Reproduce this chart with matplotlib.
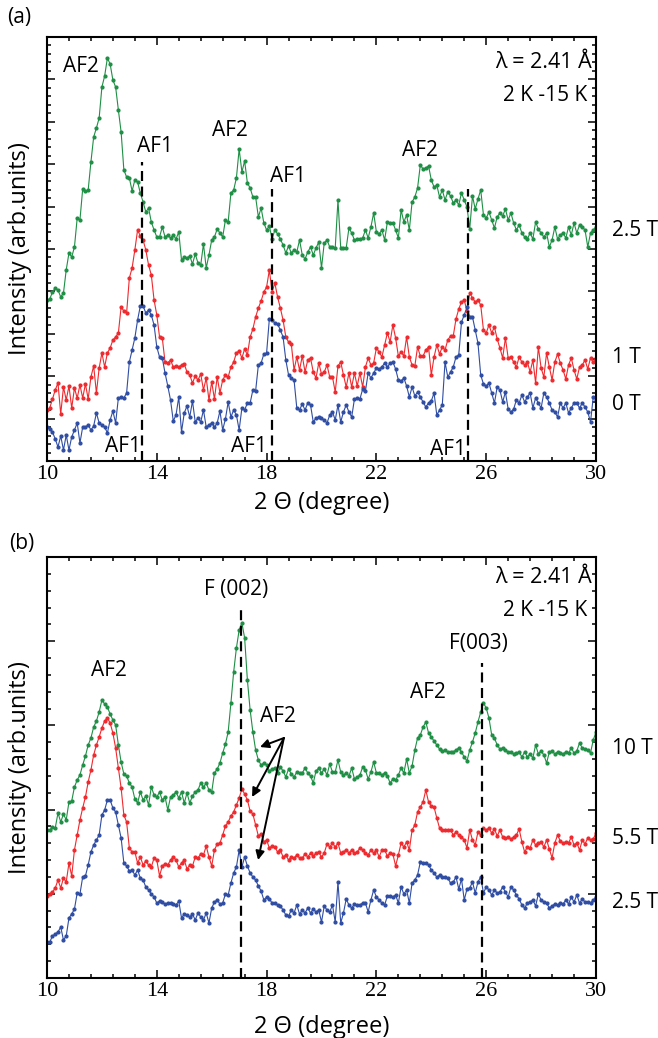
import numpy as np
import matplotlib.pyplot as plt

plt.rcParams['font.family'] = ['Open Sans', 'DejaVu Sans']

# 2 theta scan grid (0.1 degree step)
two_theta = np.linspace(10, 30, 201)

# panel (a): intensities (arb. units)
green_a = [161, 162, 169, 173, 171, 164, 168, 191, 208, 204,
           214, 243, 241, 272, 270, 271, 299, 324, 333, 343,
           374, 385, 403, 397, 381, 374, 351, 329, 291, 284,
           283, 270, 281, 279, 268, 259, 249, 253, 239, 231,
           224, 224, 234, 224, 226, 223, 226, 222, 229, 201,
           204, 203, 205, 197, 207, 198, 196, 217, 193, 206,
           221, 224, 232, 228, 224, 241, 239, 268, 271, 283,
           312, 289, 300, 278, 273, 264, 264, 244, 253, 238,
           231, 235, 222, 231, 227, 222, 216, 208, 215, 208,
           211, 209, 221, 206, 202, 209, 214, 206, 213, 219,
           193, 218, 221, 214, 214, 213, 261, 213, 213, 213,
           233, 228, 221, 222, 222, 223, 231, 223, 234, 248,
           229, 227, 231, 221, 239, 238, 238, 231, 223, 251,
           239, 246, 231, 259, 264, 273, 296, 292, 293, 295,
           281, 274, 276, 264, 271, 261, 269, 265, 258, 261,
           256, 268, 261, 254, 232, 265, 252, 262, 271, 246,
           243, 249, 241, 233, 244, 248, 245, 252, 241, 248,
           238, 231, 236, 228, 224, 222, 228, 222, 239, 232,
           228, 224, 228, 214, 221, 234, 222, 226, 228, 223,
           234, 226, 238, 228, 236, 234, 231, 214, 228, 231,
           234]
red_a = [51, 53, 62, 71, 78, 47, 74, 61, 75, 53,
         73, 63, 76, 63, 77, 62, 84, 95, 68, 93,
         108, 94, 108, 113, 121, 124, 128, 154, 150, 148,
         183, 193, 211, 231, 225, 221, 211, 196, 186, 161,
         146, 124, 123, 99, 98, 101, 94, 95, 94, 96,
         97, 89, 86, 78, 85, 81, 87, 71, 83, 61,
         79, 62, 84, 68, 81, 86, 84, 94, 99, 108,
         110, 103, 112, 106, 124, 132, 144, 153, 160, 169,
         174, 191, 169, 178, 164, 153, 141, 124, 119, 117,
         91, 104, 91, 105, 89, 101, 103, 89, 83, 98,
         87, 89, 96, 84, 84, 69, 95, 99, 86, 74,
         88, 74, 88, 75, 88, 74, 94, 103, 96, 98,
         113, 109, 104, 116, 128, 119, 136, 123, 105, 109,
         105, 124, 104, 96, 95, 114, 105, 105, 111, 114,
         86, 104, 116, 107, 114, 111, 121, 125, 125, 142,
         152, 159, 161, 150, 168, 163, 159, 161, 156, 131,
         128, 136, 128, 134, 122, 113, 103, 123, 103, 104,
         99, 94, 104, 99, 96, 99, 89, 101, 78, 114,
         93, 84, 108, 94, 81, 99, 107, 98, 91, 82,
         96, 103, 91, 82, 94, 96, 101, 92, 103, 99,
         103]
blue_a = [34, 32, 29, 22, 14, 25, 11, 26, 11, 24,
          31, 38, 18, 34, 34, 36, 31, 35, 48, 38,
          36, 34, 28, 41, 50, 38, 63, 64, 63, 68,
          99, 111, 123, 141, 155, 155, 148, 151, 146, 136,
          114, 104, 103, 88, 75, 61, 40, 46, 64, 29,
          48, 55, 44, 60, 39, 43, 39, 51, 34, 36,
          38, 34, 38, 50, 31, 42, 59, 44, 51, 46,
          31, 53, 51, 58, 58, 71, 70, 96, 98, 107,
          108, 142, 141, 138, 137, 131, 124, 101, 86, 83,
          81, 53, 51, 57, 51, 58, 56, 39, 43, 44,
          43, 41, 38, 46, 49, 41, 56, 39, 49, 56,
          49, 44, 62, 63, 62, 72, 70, 88, 83, 88,
          93, 92, 94, 98, 94, 98, 99, 92, 81, 80,
          83, 75, 64, 74, 65, 69, 64, 59, 54, 58,
          60, 68, 46, 51, 56, 99, 84, 89, 94, 104,
          106, 139, 146, 154, 144, 144, 131, 118, 86, 77,
          75, 78, 68, 58, 74, 71, 59, 69, 52, 49,
          52, 61, 58, 66, 59, 64, 68, 53, 63, 58,
          53, 68, 64, 58, 51, 49, 44, 58, 53, 58,
          48, 53, 58, 58, 53, 58, 54, 49, 39, 64,
          61]

# panel (b)
green_b = [148, 148, 151, 150, 165, 156, 164, 158, 176, 177,
           191, 198, 203, 213, 222, 233, 240, 251, 257, 266,
           278, 274, 271, 264, 258, 253, 233, 216, 204, 202,
           195, 191, 179, 175, 186, 178, 182, 173, 191, 183,
           181, 186, 178, 181, 168, 181, 183, 186, 180, 186,
           175, 185, 175, 182, 186, 188, 195, 191, 195, 188,
           186, 205, 209, 215, 225, 234, 246, 275, 306, 330,
           348, 355, 340, 298, 268, 246, 228, 218, 213, 215,
           213, 207, 209, 210, 205, 211, 207, 201, 209, 204,
           201, 206, 205, 205, 210, 205, 202, 195, 207, 210,
           205, 209, 203, 214, 206, 206, 218, 206, 203, 205,
           202, 210, 199, 201, 203, 211, 208, 199, 206, 216,
           205, 205, 203, 205, 202, 195, 199, 198, 203, 210,
           205, 219, 205, 212, 228, 240, 243, 251, 256, 245,
           241, 237, 233, 229, 227, 228, 226, 226, 226, 228,
           230, 226, 221, 217, 228, 236, 245, 256, 266, 275,
           270, 260, 243, 240, 233, 229, 230, 228, 226, 226,
           224, 225, 226, 221, 226, 221, 224, 220, 233, 224,
           227, 223, 215, 226, 227, 224, 226, 225, 224, 226,
           225, 230, 225, 227, 235, 230, 229, 228, 225, 238,
           246]
red_b = [82, 84, 86, 90, 98, 90, 100, 96, 115, 102,
         128, 143, 158, 170, 181, 196, 208, 223, 233, 241,
         250, 257, 260, 255, 245, 230, 210, 190, 163, 156,
         130, 126, 126, 115, 121, 113, 117, 113, 111, 120,
         118, 102, 112, 114, 113, 118, 121, 118, 111, 115,
         118, 109, 113, 112, 121, 120, 124, 123, 132, 121,
         112, 128, 134, 135, 143, 152, 156, 162, 166, 173,
         180, 189, 184, 178, 167, 164, 153, 142, 144, 136,
         138, 130, 132, 131, 126, 128, 121, 123, 118, 121,
         120, 123, 120, 120, 124, 121, 125, 122, 125, 126,
         121, 125, 134, 131, 135, 131, 135, 125, 126, 128,
         125, 128, 125, 126, 130, 128, 125, 123, 128, 125,
         128, 121, 128, 128, 122, 125, 124, 112, 123, 135,
         131, 136, 128, 148, 153, 166, 171, 176, 188, 176,
         172, 171, 160, 150, 148, 148, 148, 148, 143, 146,
         143, 141, 138, 130, 148, 138, 133, 146, 143, 150,
         148, 150, 145, 149, 142, 148, 141, 140, 141, 139,
         141, 143, 149, 136, 126, 131, 130, 138, 133, 135,
         136, 131, 138, 129, 120, 135, 143, 137, 135, 136,
         135, 141, 133, 135, 128, 138, 134, 140, 138, 139,
         145]
blue_b = [36, 36, 42, 44, 46, 51, 38, 42, 60, 64,
          69, 85, 84, 101, 102, 113, 126, 133, 138, 143,
          163, 168, 178, 178, 170, 166, 153, 140, 115, 112,
          107, 108, 103, 108, 100, 98, 91, 88, 84, 81,
          75, 77, 76, 74, 75, 75, 74, 73, 77, 60,
          64, 63, 61, 64, 58, 65, 61, 58, 65, 55,
          70, 76, 78, 74, 75, 84, 83, 95, 105, 111,
          128, 111, 121, 112, 105, 101, 98, 92, 87, 78,
          81, 79, 75, 75, 73, 72, 68, 63, 62, 68,
          65, 73, 64, 68, 65, 70, 65, 69, 66, 68,
          56, 72, 68, 66, 73, 56, 96, 55, 65, 79,
          73, 70, 74, 73, 73, 75, 75, 66, 78, 88,
          81, 78, 75, 73, 82, 82, 81, 83, 75, 91,
          84, 88, 75, 95, 98, 103, 116, 115, 115, 113,
          108, 105, 101, 103, 101, 101, 100, 95, 96, 101,
          89, 99, 78, 89, 90, 96, 85, 96, 101, 85,
          91, 88, 83, 88, 85, 86, 91, 86, 81, 91,
          88, 83, 79, 73, 70, 75, 76, 78, 72, 84,
          78, 76, 75, 70, 72, 74, 73, 75, 74, 78,
          74, 81, 76, 83, 75, 79, 76, 76, 75, 78,
          81]

GREEN = '#1f8f45'
RED = '#ee2a2e'
BLUE = '#2f4da3'

fig = plt.figure(figsize=(6.58, 10.38), dpi=100)
ax_a = fig.add_axes([47/658, 1 - 461/1038, 549/658, 424/1038])
ax_b = fig.add_axes([47/658, 1 - 978/1038, 549/658, 421/1038])


def style_axes(ax, ytop, xlab_y):
    ax.set_xlim(10, 30)
    ax.set_ylim(0, ytop)
    ax.set_xticks([10, 14, 18, 22, 26, 30])
    ax.set_xticks(np.arange(10, 30.01, 0.8), minor=True)
    ax.set_yticks(np.linspace(0, ytop, 11 if ytop > 422 else 6))
    ax.set_yticks(np.linspace(0, ytop, 51 if ytop > 422 else 26), minor=True)
    ax.tick_params(which='both', direction='in', top=True, right=True,
                   labelleft=False, width=1.1)
    ax.tick_params(which='major', length=6)
    ax.tick_params(which='minor', length=3)
    ax.tick_params(axis='x', labelsize=16, pad=3)
    for lab in ax.get_xticklabels():
        lab.set_fontfamily('Liberation Serif')
    for sp in ax.spines.values():
        sp.set_linewidth(1.5)
    ax.set_xlabel('2 Θ (degree)', fontsize=17, va='center')
    ax.xaxis.set_label_coords(0.5, xlab_y)
    ax.set_ylabel('Intensity (arb.units)', fontsize=17, va='center')
    ax.yaxis.set_label_coords(-0.049, 0.5)


def curve(ax, y, color):
    ax.plot(two_theta, y, color=color, lw=0.8, marker='o', ms=2.0,
            mec=color, mfc=color)


def dashed(ax, x, y1):
    ax.plot([x, x], [0, y1], color='k', lw=1.6, dashes=(4.5, 2.5), zorder=5)


fs = 15

# panel (a)
style_axes(ax_a, 424, -0.099)
curve(ax_a, green_a, GREEN)
curve(ax_a, red_a, RED)
curve(ax_a, blue_a, BLUE)
dashed(ax_a, 13.47, 299)
dashed(ax_a, 18.2, 272)
dashed(ax_a, 25.35, 272)
ax_a.text(11.24, 395, 'AF2', fontsize=fs, ha='center', va='center')
ax_a.text(13.93, 315, 'AF1', fontsize=fs, ha='center', va='center')
ax_a.text(16.67, 331, 'AF2', fontsize=fs, ha='center', va='center')
ax_a.text(18.78, 285, 'AF1', fontsize=fs, ha='center', va='center')
ax_a.text(23.59, 311, 'AF2', fontsize=fs, ha='center', va='center')
ax_a.text(12.77, 14, 'AF1', fontsize=fs, ha='center', va='center')
ax_a.text(17.37, 14, 'AF1', fontsize=fs, ha='center', va='center')
ax_a.text(24.6, 11, 'AF1', fontsize=fs, ha='center', va='center')
ax_a.text(0.993, 0.941, 'λ = 2.41 Å', transform=ax_a.transAxes,
          fontsize=fs + 0.5, ha='right', va='center')
ax_a.text(0.984, 0.861, '2 K -15 K', transform=ax_a.transAxes,
          fontsize=fs, ha='right', va='center')
tr_a = ax_a.get_yaxis_transform()
ax_a.text(1.029, 231, '2.5 T', transform=tr_a, fontsize=fs, va='center')
ax_a.text(1.029, 103, '1 T', transform=tr_a, fontsize=fs, va='center')
ax_a.text(1.029, 56, '0 T', transform=tr_a, fontsize=fs, va='center')

# panel (b)
style_axes(ax_b, 421, -0.116)
curve(ax_b, green_b, GREEN)
curve(ax_b, red_b, RED)
curve(ax_b, blue_b, BLUE)
dashed(ax_b, 17.05, 373)
dashed(ax_b, 25.86, 315)
ax_b.text(12.26, 308, 'AF2', fontsize=fs, ha='center', va='center')
ax_b.text(16.89, 388, 'F (002)', fontsize=fs, ha='center', va='center')
ax_b.text(18.43, 262, 'AF2', fontsize=fs, ha='center', va='center')
ax_b.text(23.88, 285, 'AF2', fontsize=fs, ha='center', va='center')
ax_b.text(25.7, 335, 'F(003)', fontsize=fs, ha='center', va='center')
for tx, ty in [(17.76, 231), (17.47, 181), (17.69, 118)]:
    ax_b.annotate('', xy=(tx, ty), xytext=(18.63, 240),
                  arrowprops=dict(arrowstyle='-|>', color='k', lw=1.4,
                                  mutation_scale=13, shrinkA=0, shrinkB=0))
ax_b.text(0.993, 0.952, 'λ = 2.41 Å', transform=ax_b.transAxes,
          fontsize=fs + 0.5, ha='right', va='center')
ax_b.text(0.984, 0.874, '2 K -15 K', transform=ax_b.transAxes,
          fontsize=fs, ha='right', va='center')
tr_b = ax_b.get_yaxis_transform()
ax_b.text(1.029, 230, '10 T', transform=tr_b, fontsize=fs, va='center')
ax_b.text(1.029, 140, '5.5 T', transform=tr_b, fontsize=fs, va='center')
ax_b.text(1.029, 76, '2.5 T', transform=tr_b, fontsize=fs, va='center')

fig.text(19/658, 1 - 18/1038, '(a)', fontsize=fs, ha='center', va='center')
fig.text(22/658, 1 - 543/1038, '(b)', fontsize=fs, ha='center', va='center')

fig.savefig('out.png', dpi=100)
